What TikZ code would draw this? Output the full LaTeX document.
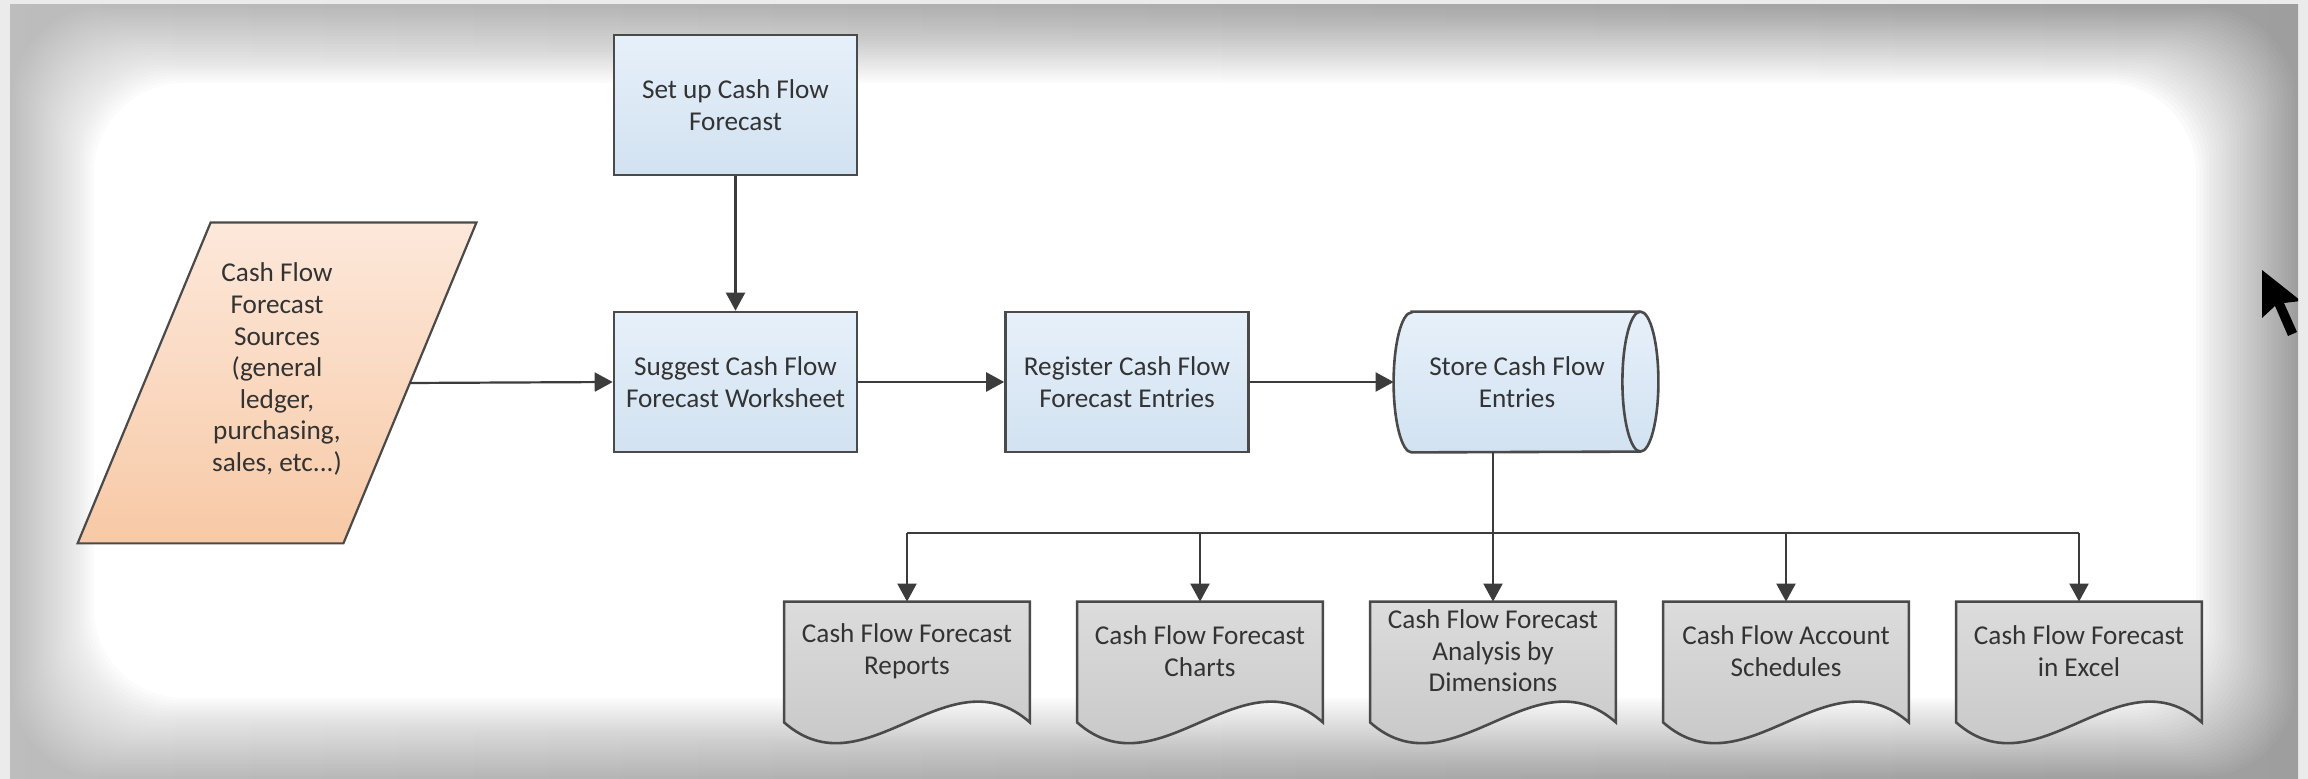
\documentclass[tikz,border=0pt]{standalone}
\usepackage{fontspec}
\setmainfont{Carlito}
\usetikzlibrary{arrows.meta,calc}
\pgfdeclarelayer{back}
\pgfdeclarelayer{bg}
\pgfsetlayers{back,bg,main}
\definecolor{edgec}{HTML}{4A4A4A}
\definecolor{linec}{HTML}{3C3C3C}
\definecolor{txtc}{HTML}{333333}
\definecolor{boxtop}{HTML}{E6F0FA}
\definecolor{boxbot}{HTML}{D2E2F1}
\definecolor{srctop}{HTML}{FDE8DA}
\definecolor{srcbot}{HTML}{F7C9A6}
\definecolor{doctop}{HTML}{DCDCDC}
\definecolor{docbot}{HTML}{C2C2C2}
\newcommand\lbl{\fontsize{13.6pt}{15.8pt}\selectfont}
\tikzset{
  proc/.style={rectangle, draw=edgec, line width=1.3pt, top color=boxtop, bottom color=boxbot,
    minimum width=121.5pt, minimum height=70pt, inner sep=2pt, align=center, font=\lbl, text=txtc},
  holder/.style={rectangle, draw=none, inner sep=2pt, align=center, font=\lbl, text=txtc},
  docnode/.style={holder, minimum width=122.5pt, minimum height=49pt},
  docfill/.style={draw=edgec, line width=1.3pt, top color=doctop, bottom color=docbot},
  cylfill/.style={draw=edgec, line width=1.3pt, top color=boxtop, bottom color=boxbot},
  srcfill/.style={draw=edgec, line width=1.1pt, top color=srctop, bottom color=srcbot},
  conn/.style={draw=linec, line width=1.1pt},
  arr/.style={conn, -{Triangle[length=9pt,width=9.5pt]}},
}
\newcommand\docout[1]{%
  \filldraw[docfill] (#1.north west) -- (#1.north east) -- ([yshift=-11pt]#1.south east)
    .. controls +(-40.8pt,36pt) and +(40.8pt,-36pt) .. ([yshift=-11pt]#1.south west) -- cycle;}
\begin{document}
\begin{tikzpicture}[x=0.5pt,y=-0.5pt]
\useasboundingbox (0,0) rectangle (2308,779);
% background vignette
\begin{pgfonlayer}{back}
  \fill[white!92!black] (0,0) rectangle (2308,779);
  \shade[left color=white!74!black, right color=white!62!black] (10,5) rectangle (2298,779);
  \foreach \k in {1,...,30}{
    \fill[white, opacity={1/(31-\k)}, rounded corners=45pt]
      ({10+2.8*\k},{5+2.6*\k}) rectangle ({2298-3.4*\k},{779-2.7*\k});
  }
\end{pgfonlayer}

% process boxes
\node[proc] (setup)    at (735.5,105) {Set up Cash Flow\\Forecast};
\node[proc] (suggest)  at (735.5,382) {Suggest Cash Flow\\Forecast Worksheet};
\node[proc] (register) at (1127,382)  {Register Cash Flow\\Forecast Entries};

% storage
\node[holder, minimum width=123pt, minimum height=70pt] (store) at (1517,382) {Store Cash Flow\\Entries};
% source parallelogram
\node[holder, minimum width=132.5pt, minimum height=160pt] (src) at (277,383)
  {Cash Flow\\Forecast\\Sources\\(general\\ledger,\\purchasing,\\sales, etc...)\\\mbox{}};

% documents
\node[docnode] (doc1) at (907,651)  {Cash Flow Forecast\\Reports};
\node[docnode] (doc2) at (1200,651) {Cash Flow Forecast\\Charts};
\node[docnode] (doc3) at (1493,651) {Cash Flow Forecast\\Analysis by\\Dimensions};
\node[docnode] (doc4) at (1786,651) {Cash Flow Account\\Schedules};
\node[docnode] (doc5) at (2079,651) {Cash Flow Forecast\\in Excel};

\begin{pgfonlayer}{bg}
  \filldraw[srcfill] ([xshift=33.25pt]src.north west) -- ([xshift=33.25pt]src.north east)
    -- ([xshift=-33.25pt]src.south east) -- ([xshift=-33.25pt]src.south west) -- cycle;
  \filldraw[cylfill] ([xshift=9pt]store.north west) -- (store.north east)
    arc[start angle=90,end angle=-90,x radius=9pt,y radius=35pt]
    -- ([xshift=9pt]store.south west)
    arc[start angle=270,end angle=90,x radius=9pt,y radius=35pt] -- cycle;
  \draw[draw=edgec, line width=1.3pt] (store.north east)
    arc[start angle=90,end angle=270,x radius=9pt,y radius=35pt];
  \docout{doc1}\docout{doc2}\docout{doc3}\docout{doc4}\docout{doc5}
\end{pgfonlayer}

% connectors
\coordinate (bus) at (1493,533);
\draw[arr] (setup) -- (suggest);
\draw[arr] (src.east) -- (suggest.west);
\draw[arr] (suggest) -- (register);
\draw[arr] (register) -- (store.west);
\draw[arr] (doc3.north |- store.south) -- (doc3.north);
\draw[conn] (doc1.north |- bus) -- (doc5.north |- bus);
\draw[arr] (doc1.north |- bus) -- (doc1.north);
\draw[arr] (doc2.north |- bus) -- (doc2.north);
\draw[arr] (doc4.north |- bus) -- (doc4.north);
\draw[arr] (doc5.north |- bus) -- (doc5.north);

% mouse pointer
\begin{scope}
  \clip (2200,200) rectangle (2298,360);
  \fill[black] (2262,270) -- (2262,318) -- (2275,306) -- (2288,336) -- (2297,332)
    -- (2284,303) -- (2301,301) -- cycle;
\end{scope}
\end{tikzpicture}
\end{document}
